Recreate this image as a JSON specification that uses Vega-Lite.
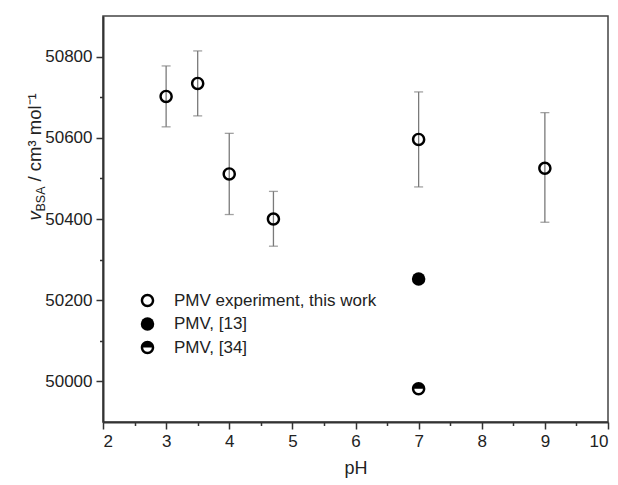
{
  "$schema": "https://vega.github.io/schema/vega-lite/v6.json",
  "width": 505,
  "height": 406,
  "autosize": {"type": "none"},
  "padding": {"left": 103, "top": 16, "right": 10, "bottom": 63},
  "background": "white",
  "data": {
    "values": [
      {"pH": 3, "v": 50702, "lo": 50627, "hi": 50777, "series": "PMV experiment, this work"},
      {"pH": 3.5, "v": 50734, "lo": 50654, "hi": 50814, "series": "PMV experiment, this work"},
      {"pH": 4, "v": 50511, "lo": 50411, "hi": 50611, "series": "PMV experiment, this work"},
      {"pH": 4.7, "v": 50400, "lo": 50333, "hi": 50468, "series": "PMV experiment, this work"},
      {"pH": 7, "v": 50596, "lo": 50479, "hi": 50713, "series": "PMV experiment, this work"},
      {"pH": 9, "v": 50525, "lo": 50392, "hi": 50662, "series": "PMV experiment, this work"},
      {"pH": 7, "v": 50252, "lo": null, "hi": null, "series": "PMV, [13]"},
      {"pH": 7, "v": 49982, "lo": null, "hi": null, "series": "PMV, [34]"}
    ]
  },
  "layer": [
    {
      "transform": [{"filter": "datum.lo != null"}],
      "mark": {"type": "rule", "color": "#7a7a7a", "strokeWidth": 1.3},
      "encoding": {
        "x": {"field": "pH", "type": "quantitative", "scale": {"domain": [2, 10], "nice": false},
          "axis": {"orient": "bottom", "values": [2.5, 3.5, 4.5, 5.5, 6.5, 7.5, 8.5, 9.5], "labels": false, "domain": false, "tickSize": 3.5, "title": null}},
        "y": {"field": "lo", "type": "quantitative", "scale": {"domain": [49900, 50900], "nice": false, "zero": false},
          "axis": {"orient": "left", "values": [50100, 50300, 50500, 50700], "labels": false, "domain": false, "tickSize": 3.5,
            "title": "BSA", "titleFontSize": 12.5, "titleAngle": -90, "titleAlign": "left", "titleBaseline": "alphabetic", "titleX": -59, "titleY": 195}},
        "y2": {"field": "hi"}
      }
    },
    {
      "transform": [{"filter": "datum.lo != null"}, {"fold": ["lo", "hi"], "as": ["end", "val"]}],
      "mark": {"type": "tick", "orient": "horizontal", "color": "#7a7a7a", "size": 9, "thickness": 1.3},
      "encoding": {
        "x": {"field": "pH", "type": "quantitative", "axis": null},
        "y": {"field": "val", "type": "quantitative",
          "axis": {"orient": "left", "labels": false, "domain": false, "ticks": false,
            "title": "/ cm³ mol⁻¹", "titleFontSize": 18.5, "titleAngle": -90, "titleAlign": "left", "titleBaseline": "alphabetic", "titleX": -63, "titleY": 165}}
      }
    },
    {
      "mark": {"type": "point", "filled": true, "color": "black", "size": 182, "opacity": 1, "strokeWidth": 0},
      "encoding": {
        "x": {"field": "pH", "type": "quantitative",
          "axis": {"orient": "bottom", "values": [2, 3, 4, 5, 6, 7, 8, 9, 10], "tickSize": 7, "labelPadding": 4, "labelFontSize": 17, "title": "pH", "titleFontSize": 18, "titlePadding": 10}},
        "y": {"field": "v", "type": "quantitative",
          "axis": {"orient": "left", "values": [50000, 50200, 50400, 50600, 50800], "format": "d", "tickSize": 7, "labelPadding": 4, "labelFontSize": 17,
            "title": "v", "titleFontSize": 18.5, "titleFontStyle": "italic", "titleAngle": -90, "titleAlign": "left", "titleBaseline": "alphabetic", "titleX": -63, "titleY": 204}},
        "shape": {"field": "series", "type": "nominal",
          "scale": {"domain": ["PMV experiment, this work", "PMV, [13]", "PMV, [34]"],
            "range": [
              "M -1 0 A 1 1 0 1 1 1 0 A 1 1 0 1 1 -1 0 Z M -0.64 0 A 0.64 0.64 0 1 0 0.64 0 A 0.64 0.64 0 1 0 -0.64 0 Z",
              "circle",
              "M -1 0 A 1 1 0 1 1 1 0 A 1 1 0 1 1 -1 0 Z M -0.64 0 A 0.64 0.64 0 0 0 0.64 0 Z"
            ]},
          "legend": {"title": null, "orient": "none", "legendX": 36, "legendY": 276, "padding": 0,
            "symbolSize": 182, "symbolFillColor": "black", "symbolStrokeWidth": 0, "labelOffset": 18,
            "labelFontSize": 17, "labelFont": "Liberation Sans", "labelColor": "#222", "rowPadding": 5.5, "labelLimit": 400}}
      }
    }
  ],
  "resolve": {"axis": {"x": "independent", "y": "independent"}},
  "config": {
    "view": {"stroke": "#444", "strokeWidth": 1.5},
    "axis": {"grid": false, "labelFont": "Liberation Sans", "titleFont": "Liberation Sans", "labelFontSize": 17,
      "labelColor": "#222", "titleColor": "#222", "titleFontWeight": "normal", "domainColor": "#333", "domainWidth": 2,
      "tickColor": "#333", "tickWidth": 1.5}
  }
}
